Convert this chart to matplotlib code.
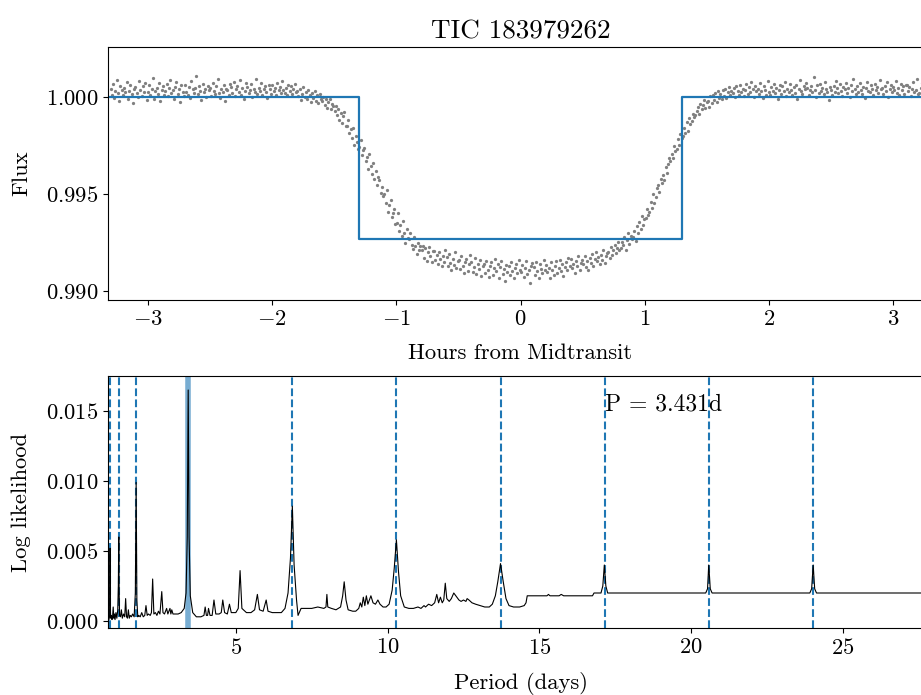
import matplotlib
matplotlib.use("Agg")
import matplotlib.pyplot as plt
import numpy as np

plt.rcParams['font.family'] = 'serif'
plt.rcParams['font.serif'] = ['cmr10']
plt.rcParams['mathtext.fontset'] = 'cm'
plt.rcParams['axes.formatter.use_mathtext'] = True
plt.rcParams['font.size'] = 16.3
plt.rcParams['axes.labelpad'] = 10.5

title = 'TIC 183979262'
period_best = 3.431          # days
duration = 2.6               # hours, full box width
depth = 0.00732

# folded light curve, flux offset from 1 in units of 1e-5, 10 points per 0.1 h
flux_1e5 = [
    41, 12, 68, -5, 33, 90, 20, -18, 55, 37,
    8, 47, 26, 75, -12, 30, 61, 14, -30, 44,
    52, 19, -2, 83, 36, 5, 58, 27, 70, -15,
    24, 63, 9, 40, 100, -8, 31, 49, 16, 72,
    -20, 38, 57, 11, 29, 66, 3, 45, 88, 21,
    35, -10, 50, 77, 18, 42, -25, 60, 26, 6,
    64, 28, 13, 53, -3, 81, 39, 22, 47, 110,
    17, 56, 32, -14, 69, 25, 43, 2, 59, 36,
    48, 7, 74, 30, 15, 55, 92, 20, -7, 41,
    27, 62, -18, 44, 35, 10, 67, 51, 23, 79,
    5, 39, 58, 24, 86, 13, 46, -9, 33, 70,
    54, 21, 37, 65, 0, 42, 28, 95, 16, 49,
    31, 73, 12, 40, 57, 26, -4, 61, 44, 18,
    60, 29, 48, 8, 71, 35, 52, 19, 83, 38,
    22, 45, 10, 63, 30, 55, 14, 40, 68, 25,
    30, 5, 42, -15, 18, 50, 2, 27, -8, 35,
    12, -25, 20, -5, 33, -18, 8, -30, 15, -12,
    -20, 0, -40, -12, -55, -25, -8, -60, -35, -48,
    -70, -45, -95, -60, -120, -80, -135, -100, -75, -150,
    -150, -120, -185, -165, -210, -160, -245, -200, -230, -270,
    -255, -220, -300, -275, -260, -330, -310, -370, -295, -355,
    -395, -340, -420, -380, -455, -410, -430, -495, -465, -510,
    -500, -545, -480, -590, -555, -530, -620, -600, -575, -655,
    -650, -600, -690, -660, -715, -640, -700, -750, -680, -725,
    -730, -700, -760, -785, -720, -770, -810, -750, -790, -765,
    -790, -765, -830, -780, -845, -800, -775, -820, -850, -795,
    -795, -840, -815, -860, -800, -835, -870, -820, -850, -790,
    -825, -870, -810, -855, -890, -835, -865, -800, -880, -845,
    -840, -885, -820, -870, -905, -850, -835, -895, -860, -815,
    -850, -900, -875, -830, -910, -860, -885, -840, -920, -870,
    -860, -905, -845, -890, -925, -870, -850, -915, -880, -835,
    -895, -860, -930, -875, -845, -910, -885, -950, -865, -900,
    -870, -915, -850, -895, -935, -880, -860, -905, -840, -890,
    -900, -865, -925, -880, -845, -910, -890, -960, -870, -855,
    -875, -915, -850, -895, -930, -860, -885, -905, -840, -890,
    -865, -900, -880, -935, -850, -890, -915, -870, -845, -905,
    -880, -840, -895, -860, -920, -875, -850, -890, -830, -870,
    -835, -880, -860, -905, -845, -870, -820, -890, -855, -840,
    -860, -820, -875, -845, -890, -830, -855, -810, -870, -835,
    -800, -845, -825, -860, -815, -840, -790, -855, -820, -805,
    -800, -830, -775, -815, -790, -760, -805, -780, -745, -790,
    -780, -745, -760, -720, -790, -735, -700, -755, -715, -730,
    -720, -690, -740, -665, -700, -645, -680, -615, -660, -630,
    -625, -575, -610, -590, -540, -570, -500, -545, -515, -470,
    -455, -490, -420, -445, -400, -430, -360, -390, -345, -315,
    -330, -295, -315, -250, -280, -270, -215, -245, -190, -210,
    -200, -160, -185, -130, -175, -110, -140, -125, -85, -105,
    -95, -70, -50, -85, -35, -60, -40, -15, -55, -25,
    -20, -50, 5, -30, 10, -15, 20, -25, 30, -5,
    15, -10, 35, 5, 40, -5, 25, 50, 10, 30,
    20, 45, 0, 55, 30, 10, 60, 25, 40, 5,
    35, 65, 15, 50, 25, 80, 40, 0, 55, 30,
    44, 18, 70, 30, -5, 58, 36, 12, 85, 26,
    9, 52, 33, 66, 20, 47, -12, 38, 61, 15,
    57, 29, 80, 4, 43, 25, 69, 35, 10, 50,
    23, 64, -8, 41, 90, 31, 16, 55, 39, 72,
    46, 11, 34, 59, 27, 105, 38, 2, 62, 21,
    68, 32, 49, 14, 76, 40, 24, -15, 53, 36,
    13, 58, 28, 84, 45, 19, 66, 33, 7, 51,
    39, 74, 20, 48, 1, 63, 30, 93, 42, 17,
    55, 25, 70, 37, 14, 52, -6, 45, 78, 31,
    27, 61, 43, 8, 67, 35, 50, 21, 88, 40,
    48, 16, 59, 32, 75, -2, 41, 64, 26, 53,
    34, 82, 22, 47, 11, 69, 38, 56, 18, 60,
    62, 29, 51, 4, 44, 77, 24, 36, 95, 15,
    19, 46, 71, 33, 58, 10, 40, 65, 28, 50,
]

# BLS periodogram, log likelihood in units of 1e-4
period = [
    0.79, 0.82, 0.84, 0.85, 0.858, 0.865, 0.88, 0.90, 0.92, 0.94,
    0.96, 0.98, 1.00, 1.02, 1.05, 1.08, 1.11, 1.13, 1.144, 1.155,
    1.17, 1.20, 1.23, 1.26, 1.30, 1.34, 1.37, 1.40, 1.43, 1.46,
    1.49, 1.52, 1.56, 1.60, 1.65, 1.69, 1.716, 1.74, 1.77, 1.80,
    1.85, 1.90, 1.95, 2.00, 2.04, 2.08, 2.12, 2.18, 2.22, 2.26,
    2.30, 2.35, 2.40, 2.45, 2.50, 2.56, 2.60, 2.65, 2.72, 2.76,
    2.83, 2.86, 2.89, 2.93, 3.00, 3.10, 3.20, 3.30, 3.36, 3.40,
    3.431, 3.46, 3.50, 3.58, 3.70, 3.85, 3.95, 3.99, 4.03, 4.07,
    4.10, 4.15, 4.22, 4.28, 4.34, 4.45, 4.52, 4.57, 4.63, 4.72,
    4.79, 4.85, 5.00, 5.08, 5.14, 5.20, 5.35, 5.50, 5.62, 5.71,
    5.78, 5.90, 6.00, 6.06, 6.20, 6.35, 6.50, 6.62, 6.72, 6.80,
    6.862, 6.92, 7.00, 7.05, 7.15, 7.30, 7.50, 7.70, 7.90, 7.97,
    8.00, 8.03, 8.15, 8.30, 8.45, 8.52, 8.57, 8.63, 8.70, 8.85,
    8.95, 9.05, 9.10, 9.15, 9.20, 9.25, 9.30, 9.35, 9.45, 9.52,
    9.60, 9.68, 9.75, 9.85, 9.95, 10.05, 10.15, 10.22, 10.29, 10.36,
    10.43, 10.55, 10.70, 10.85, 11.00, 11.10, 11.20, 11.25, 11.35, 11.45,
    11.55, 11.62, 11.68, 11.74, 11.80, 11.85, 11.90, 11.95, 12.03, 12.10,
    12.18, 12.28, 12.35, 12.42, 12.50, 12.58, 12.62, 12.68, 12.78, 12.90,
    13.05, 13.20, 13.35, 13.45, 13.55, 13.63, 13.72, 13.81, 13.90, 14.00,
    14.15, 14.35, 14.50, 14.56, 14.60, 15.25, 15.30, 15.35, 15.65, 15.72,
    15.80, 16.75, 16.80, 17.03, 17.09, 17.14, 17.19, 17.25, 20.48, 20.54,
    20.58, 20.63, 20.69, 23.91, 23.97, 24.02, 24.07, 24.13, 27.97,
]
loglike_1e4 = [
    2, 1, 3, 8, 52, 8, 2, 4, 1, 3,
    10, 2, 5, 1, 6, 2, 8, 25, 60, 22,
    4, 3, 8, 2, 5, 3, 16, 3, 2, 8,
    2, 4, 3, 5, 3, 20, 99, 15, 3, 4,
    3, 6, 3, 4, 11, 4, 5, 4, 6, 30,
    5, 6, 4, 7, 5, 21, 6, 5, 9, 5,
    9, 5, 8, 5, 5, 5, 6, 9, 20, 60,
    165, 60, 18, 6, 3, 3, 4, 10, 4, 4,
    9, 4, 4, 15, 5, 5, 6, 15, 6, 5,
    12, 6, 6, 9, 36, 9, 6, 6, 8, 19,
    8, 7, 15, 7, 6, 6, 6, 9, 20, 45,
    82, 40, 15, 4, 9, 9, 9, 10, 9, 10,
    19, 10, 9, 8, 10, 18, 28, 15, 8, 7,
    7, 9, 13, 10, 17, 11, 18, 12, 18, 13,
    12, 15, 12, 10, 10, 12, 22, 38, 58, 35,
    18, 10, 9, 9, 10, 9, 11, 10, 12, 11,
    13, 19, 13, 17, 13, 15, 27, 16, 14, 16,
    20, 17, 15, 14, 15, 14, 16, 15, 13, 12,
    11, 10, 10, 12, 18, 28, 41, 28, 16, 11,
    10, 10, 11, 13, 18, 18, 19, 18, 18, 19,
    18, 18, 20, 20, 25, 40, 25, 20, 20, 23,
    40, 23, 20, 20, 23, 40, 23, 20, 20,
]

harmonics = [1/4, 1/3, 1/2, 2, 3, 4, 5, 6, 7]

flux = 1 + np.array(flux_1e5) * 1e-5
hours = np.linspace(-3.3, 3.3, len(flux))
loglike = np.array(loglike_1e4) * 1e-4

fig = plt.figure(figsize=(9.21, 6.95), dpi=100)
ax1 = fig.add_axes([0.1173, 0.5683, 0.8958, 0.3641])
ax2 = fig.add_axes([0.1173, 0.0964, 0.8958, 0.3626])

# top: folded transit
ax1.scatter(hours, flux, s=5.5, color='gray', lw=0, zorder=1)
half = duration / 2
mx = [-3.32, -half, -half, half, half, 3.32]
my = [1, 1, 1 - depth, 1 - depth, 1, 1]
ax1.plot(mx, my, color='C0', lw=1.6, zorder=2)
ax1.set_xlim(-3.32, 3.32)
ax1.set_ylim(0.98954, 1.00258)
ax1.set_yticks([0.990, 0.995, 1.000])
ax1.ticklabel_format(axis='y', useOffset=False)
ax1.set_xlabel('Hours from Midtransit')
ax1.set_ylabel('Flux')
ax1.set_title(title)

# bottom: periodogram
ax2.plot(period, loglike, color='k', lw=0.8, zorder=3)
ax2.axvline(period_best, color='C0', lw=4, alpha=0.6, zorder=2)
for n in harmonics:
    ax2.axvline(n * period_best, color='C0', lw=1.5, ls='--', zorder=2)
ax2.text(0.602, 0.889, 'P = %.3fd' % period_best, transform=ax2.transAxes,
         va='center', ha='left', fontsize=17)
ax2.set_xlim(0.79, 27.97)
ax2.set_ylim(-0.0005, 0.0175)
ax2.set_yticks([0.0, 0.005, 0.010, 0.015])
ax2.set_xlabel('Period (days)')
ax2.set_ylabel('Log likelihood')

fig.savefig('out.png', dpi=100)
